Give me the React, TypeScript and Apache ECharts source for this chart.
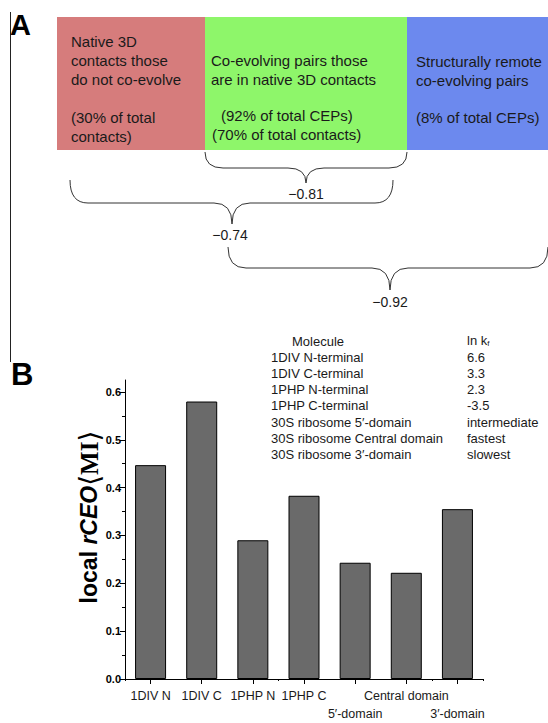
import React, { useEffect, useRef } from "react";
import * as echarts from "echarts";

const categories = ["1DIV N", "1DIV C", "1PHP N", "1PHP C", "5′-domain", "Central domain", "3′-domain"];
const rceoValues = [0.447, 0.58, 0.29, 0.383, 0.243, 0.222, 0.355];
const staggeredLabels = [4, 6];
const yMajorTicks = [0, 0.1, 0.2, 0.3, 0.4, 0.5, 0.6];
const yMinorTicks = [0.05, 0.15, 0.25, 0.35, 0.45, 0.55];
const yMax = 0.625;

const molecules = [
  "1DIV N-terminal",
  "1DIV C-terminal",
  "1PHP N-terminal",
  "1PHP C-terminal",
  "30S ribosome 5′-domain",
  "30S ribosome Central domain",
  "30S ribosome 3′-domain",
];
const lnKf = ["6.6", "3.3", "2.3", "-3.5", "intermediate", "fastest", "slowest"];

const redLines = ["Native 3D", "contacts those", "do not co-evolve", "", "(30% of total", "contacts)"];
const greenLines = ["Co-evolving pairs those", "are in native 3D contacts"];
const greenPct = ["(92% of total CEPs)", "(70% of total contacts)"];
const blueLines = ["Structurally remote", "co-evolving pairs", "", "(8% of total CEPs)"];
const braceLabels = ["−0.81", "−0.74", "−0.92"];

function bracePath(x1: number, x2: number, xc: number, yEnd: number, yMid: number, yTip: number, r: number) {
  return (
    `M${x1} ${yEnd} Q${x1} ${yMid} ${x1 + r} ${yMid} L${xc - r} ${yMid} ` +
    `Q${xc} ${yMid} ${xc} ${yTip} Q${xc} ${yMid} ${xc + r} ${yMid} ` +
    `L${x2 - r} ${yMid} Q${x2} ${yMid} ${x2} ${yEnd}`
  );
}

const braces = [
  { x1: 205, x2: 407, xc: 306, yEnd: 152, yMid: 168, yTip: 183 },
  { x1: 70, x2: 393, xc: 232, yEnd: 180, yMid: 203, yTip: 224 },
  { x1: 228, x2: 548, xc: 390, yEnd: 247, yMid: 268, yTip: 290 },
];
const braceLabelPos = [
  { x: 306, y: 194 },
  { x: 230, y: 235 },
  { x: 390, y: 302 },
];

let registered = false;
function registerBraces() {
  if (registered) return;
  braces.forEach((b, i) => {
    echarts.graphic.registerShape(
      "brace" + i,
      echarts.graphic.extendPath(bracePath(b.x1, b.x2, b.xc, b.yEnd, b.yMid, b.yTip, 18), {}) as any
    );
  });
  registered = true;
}

export default function App() {
  const ref = useRef<HTMLDivElement>(null);
  useEffect(() => {
    document.body.style.margin = "0";
    if (!ref.current) return;
    registerBraces();
    const chart = echarts.init(ref.current, null, { renderer: "svg" });
    const font = "Arial, 'Liberation Sans', sans-serif";
    const txtColor = "#1a1a1a";

    const graphics: any[] = [];
    graphics.push({ type: "line", shape: { x1: 10.5, y1: 12, x2: 10.5, y2: 362 }, style: { stroke: "#222", lineWidth: 1 } });
    graphics.push({ type: "text", x: 10, y: 10, style: { text: "A", font: `bold 29px ${font}`, fill: "#000" } });
    graphics.push({ type: "text", x: 11, y: 359, style: { text: "B", font: `bold 31px ${font}`, fill: "#000" } });
    graphics.push({ type: "rect", shape: { x: 57, y: 17, width: 148, height: 133 }, style: { fill: "#d67c7c" } });
    graphics.push({ type: "rect", shape: { x: 205, y: 17, width: 202, height: 133 }, style: { fill: "#8ef66a" } });
    graphics.push({ type: "rect", shape: { x: 407, y: 17, width: 141, height: 133 }, style: { fill: "#6c89ee" } });
    const boxFont = `15px ${font}`;
    graphics.push({ type: "text", x: 71, y: 32, style: { text: redLines.join("\n"), font: boxFont, lineHeight: 19, fill: txtColor } });
    graphics.push({ type: "text", x: 211, y: 51, style: { text: greenLines.join("\n"), font: boxFont, lineHeight: 19, fill: txtColor } });
    graphics.push({ type: "text", x: 221, y: 108, style: { text: greenPct[0], font: boxFont, fill: txtColor } });
    graphics.push({ type: "text", x: 212, y: 127, style: { text: greenPct[1], font: boxFont, fill: txtColor } });
    graphics.push({ type: "text", x: 416, y: 52, style: { text: blueLines.join("\n"), font: boxFont, lineHeight: 18.7, fill: txtColor } });
    braces.forEach((_, i) => {
      graphics.push({ type: "brace" + i, x: 0, y: 0, scaleX: 1, scaleY: 1, style: { fill: "none", stroke: "#333", lineWidth: 1 } });
      graphics.push({
        type: "text",
        x: braceLabelPos[i].x,
        y: braceLabelPos[i].y,
        style: { text: braceLabels[i], font: `14px ${font}`, fill: txtColor, textAlign: "center", textVerticalAlign: "middle" },
      });
    });
    const tblFont = `13px ${font}`;
    graphics.push({ type: "text", x: 292, y: 341, style: { text: "Molecule", font: tblFont, fill: txtColor, textVerticalAlign: "middle" } });
    graphics.push({
      type: "text",
      x: 467,
      y: 340,
      style: {
        text: "{a|ln k}{s|f}",
        textVerticalAlign: "middle",
        rich: {
          a: { font: tblFont, fill: txtColor },
          s: { font: `8px ${font}`, fill: txtColor, padding: [6, 0, 0, 0] },
        },
      },
    });
    molecules.forEach((m, i) => {
      graphics.push({ type: "text", x: 271, y: 357 + i * 16.3, style: { text: m, font: tblFont, fill: txtColor, textVerticalAlign: "middle" } });
      graphics.push({ type: "text", x: 467, y: 357 + i * 16.3, style: { text: lnKf[i], font: tblFont, fill: txtColor, textVerticalAlign: "middle" } });
    });
    graphics.push({
      type: "text",
      x: 89,
      y: 517,
      rotation: Math.PI / 2,
      style: {
        text: "{a|local }{b|rCEO}{c|⟨}{d|MI}{c|⟩}",
        textAlign: "center",
        textVerticalAlign: "middle",
        rich: {
          a: { font: `bold 23px ${font}`, fill: "#000" },
          b: { font: `italic bold 23px ${font}`, fill: "#000" },
          c: { font: `28px 'DejaVu Serif', serif`, fill: "#000" },
          d: { font: `bold 25px 'Liberation Serif', 'DejaVu Serif', serif`, fill: "#000" },
        },
      },
    });

    const option: any = {
      animation: false,
      grid: { left: 125, right: 65, top: 380, bottom: 39, containLabel: false },
      xAxis: [
        {
          type: "category",
          data: categories,
          axisLine: { show: true, lineStyle: { color: "#000", width: 1 } },
          axisTick: { show: true, alignWithLabel: true, length: 5, lineStyle: { color: "#000" } },
          axisLabel: {
            color: txtColor,
            fontFamily: font,
            fontSize: 12.5,
            margin: 8,
            lineHeight: 18,
            interval: 0,
            formatter: (v: string, idx: number) => (staggeredLabels.includes(idx) ? "\n" + v : v),
          },
        },
        {
          type: "category",
          data: categories,
          position: "bottom",
          axisLine: { show: false },
          axisTick: { show: true, length: 2, lineStyle: { color: "#000" } },
          axisLabel: { show: false },
        },
      ],
      yAxis: [
        {
          type: "value",
          min: 0,
          max: yMax,
          splitLine: { show: false },
          axisLine: { show: true, lineStyle: { color: "#000", width: 1 } },
          axisTick: { show: true, length: 5, customValues: yMajorTicks, lineStyle: { color: "#000" } },
          axisLabel: {
            customValues: yMajorTicks,
            color: "#000",
            fontFamily: font,
            fontWeight: "bold",
            fontSize: 11,
            margin: 4,
            formatter: (v: number) => v.toFixed(1),
          },
        },
        {
          type: "value",
          min: 0,
          max: yMax,
          position: "left",
          splitLine: { show: false },
          axisLine: { show: false },
          axisTick: { show: true, length: 3, customValues: yMinorTicks, lineStyle: { color: "#000" } },
          axisLabel: { show: false },
        },
      ],
      series: [
        {
          type: "bar",
          data: rceoValues,
          barWidth: 31,
          itemStyle: { color: "#6a6a6a", borderColor: "#000", borderWidth: 1 },
        },
      ],
      graphic: graphics,
    };
    chart.setOption(option);
    return () => chart.dispose();
  }, []);
  return <div ref={ref} style={{ width: 548, height: 723 }} />;
}
